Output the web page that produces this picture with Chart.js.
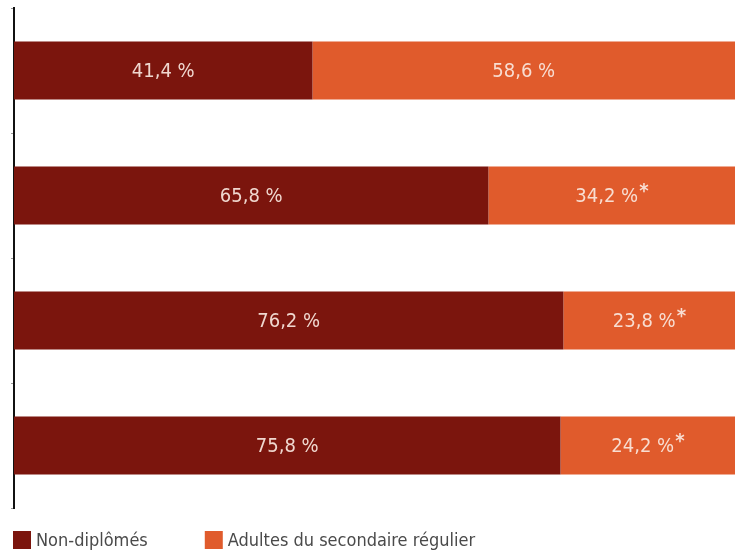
<!DOCTYPE html>
<html>
<head>
<meta charset="utf-8">
<script src="https://cdn.jsdelivr.net/npm/chart.js@4"></script>
<style>
  html, body { margin: 0; padding: 0; background: #fff; }
  #wrap { width: 737px; height: 554px; position: relative; }
</style>
</head>
<body>
<div id="wrap"><canvas id="chart"></canvas></div>
<script>
const categories = ["Groupe 1", "Groupe 2", "Groupe 3", "Groupe 4"];
const nonDiplomes = [41.4, 65.8, 76.2, 75.8];
const adultesSecondaire = [58.6, 34.2, 23.8, 24.2];
// astérisque : estimation à interpréter avec prudence
const adultesFlags = [false, true, true, true];

const seriesNames = ["Non-diplômés", "Adultes du secondaire régulier"];
const seriesColors = ["#7b150d", "#e05b2c"];
const FONT = "'Liberation Sans Narrow', 'DejaVu Sans Condensed', sans-serif";

function formatPct(v) {
  return v.toFixed(1).replace(".", ",") + " %";
}

// étiquettes centrées dans chaque segment
const barLabels = {
  id: "barLabels",
  afterDatasetsDraw(chart) {
    const ctx = chart.ctx;
    ctx.save();
    ctx.fillStyle = "rgba(250, 232, 224, 0.92)";
    ctx.textBaseline = "middle";
    ctx.textAlign = "left";
    chart.data.datasets.forEach((ds, di) => {
      const meta = chart.getDatasetMeta(di);
      meta.data.forEach((bar, i) => {
        const text = formatPct(ds.data[i]);
        const star = di === 1 && adultesFlags[i] ? "*" : "";
        ctx.font = "20px " + FONT;
        const w = ctx.measureText(text).width;
        ctx.font = "20px " + FONT;
        const sw = star ? ctx.measureText(star).width + 1 : 0;
        const cx = (bar.x + bar.base) / 2;
        const x0 = cx - (w + sw) / 2;
        ctx.font = "20px " + FONT;
        ctx.fillText(text, x0, bar.y + 1);
        if (star) {
          ctx.font = "bold 20px " + FONT;
          ctx.fillText(star, x0 + w + 1, bar.y - 4);
        }
      });
    });
    ctx.restore();
  }
};

// légende dessinée à la main sous le graphique
const bottomLegend = {
  id: "bottomLegend",
  afterDraw(chart) {
    const ctx = chart.ctx;
    const box = 18;
    const gap = 57;
    let x = chart.chartArea.left - 1;
    const yMid = chart.chartArea.bottom + 32;
    ctx.save();
    ctx.font = "18px " + FONT;
    ctx.textBaseline = "middle";
    ctx.textAlign = "left";
    chart.data.datasets.forEach((ds) => {
      ctx.fillStyle = ds.backgroundColor;
      ctx.fillRect(x, yMid - box / 2, box, box);
      ctx.fillStyle = "#4a4a4a";
      ctx.fillText(ds.label, x + box + 5, yMid + 1);
      x += box + 5 + ctx.measureText(ds.label).width + gap;
    });
    ctx.restore();
  }
};

const ctx = document.getElementById("chart").getContext("2d");
new Chart(ctx, {
  type: "bar",
  data: {
    labels: categories,
    datasets: [
      {
        label: seriesNames[0],
        data: nonDiplomes,
        backgroundColor: seriesColors[0],
        categoryPercentage: 1,
        barPercentage: 0.465,
      },
      {
        label: seriesNames[1],
        data: adultesSecondaire,
        backgroundColor: seriesColors[1],
        categoryPercentage: 1,
        barPercentage: 0.465,
      },
    ],
  },
  options: {
    indexAxis: "y",
    responsive: true,
    maintainAspectRatio: false,
    animation: false,
    layout: { padding: { left: 11, right: 2, top: 8, bottom: 46 } },
    scales: {
      x: {
        stacked: true,
        min: 0,
        max: 100,
        display: false,
      },
      y: {
        stacked: true,
        ticks: { display: false },
        grid: {
          drawOnChartArea: false,
          drawTicks: true,
          tickLength: 3,
          color: "#999",
          offset: true,
        },
        border: { display: true, color: "#111", width: 2 },
      },
    },
    plugins: {
      legend: { display: false },
      tooltip: { enabled: false },
    },
  },
  plugins: [barLabels, bottomLegend],
});
</script>
</body>
</html>
